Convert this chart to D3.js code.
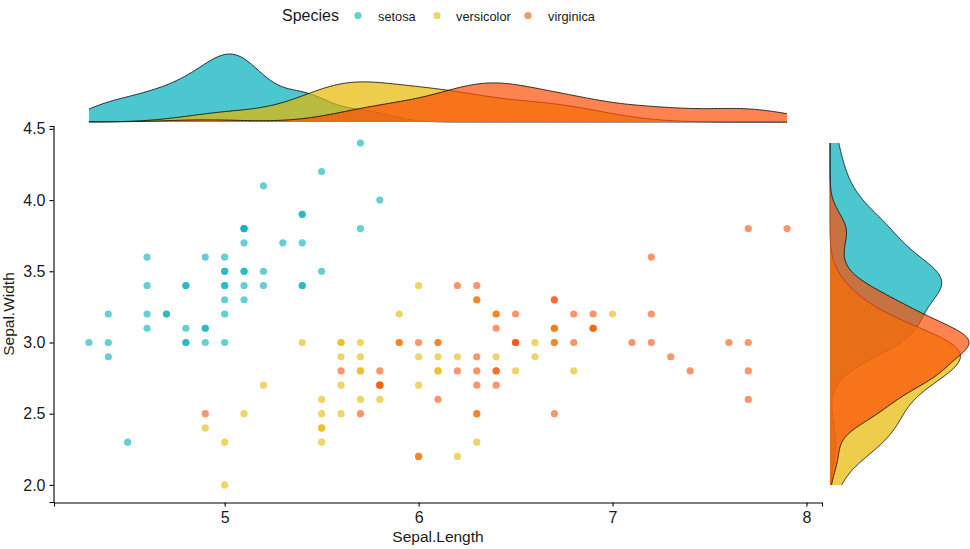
<!DOCTYPE html>
<html><head><meta charset="utf-8">
<script src="https://cdn.jsdelivr.net/npm/d3@7"></script>
<style>body{margin:0;background:#fff;} svg{display:block;font-family:"Liberation Sans",Arial,sans-serif;}</style>
</head><body><svg id="c" width="970" height="549"></svg>
<script>
const species = ["setosa", "versicolor", "virginica"];
const colors = ["#00AFBB", "#E7B800", "#FC4E07"];

const setosaLength = [5.1,4.9,4.7,4.6,5.0,5.4,4.6,5.0,4.4,4.9,5.4,4.8,4.8,4.3,5.8,5.7,5.4,5.1,5.7,5.1,5.4,5.1,4.6,5.1,4.8,5.0,5.0,5.2,5.2,4.7,4.8,5.4,5.2,5.5,4.9,5.0,5.5,4.9,4.4,5.1,5.0,4.5,4.4,5.0,5.1,4.8,5.1,4.6,5.3,5.0];
const setosaWidth = [3.5,3.0,3.2,3.1,3.6,3.9,3.4,3.4,2.9,3.1,3.7,3.4,3.0,3.0,4.0,4.4,3.9,3.5,3.8,3.8,3.4,3.7,3.6,3.3,3.4,3.0,3.4,3.5,3.4,3.2,3.1,3.4,4.1,4.2,3.1,3.2,3.5,3.6,3.0,3.4,3.5,2.3,3.2,3.5,3.8,3.0,3.8,3.2,3.7,3.3];
const versicolorLength = [7.0,6.4,6.9,5.5,6.5,5.7,6.3,4.9,6.6,5.2,5.0,5.9,6.0,6.1,5.6,6.7,5.6,5.8,6.2,5.6,5.9,6.1,6.3,6.1,6.4,6.6,6.8,6.7,6.0,5.7,5.5,5.5,5.8,6.0,5.4,6.0,6.7,6.3,5.6,5.5,5.5,6.1,5.8,5.0,5.6,5.7,5.7,6.2,5.1,5.7];
const versicolorWidth = [3.2,3.2,3.1,2.3,2.8,2.8,3.3,2.4,2.9,2.7,2.0,3.0,2.2,2.9,2.9,3.1,3.0,2.7,2.2,2.5,3.2,2.8,2.5,2.8,2.9,3.0,2.8,3.0,2.9,2.6,2.4,2.4,2.7,2.7,3.0,3.4,3.1,2.3,3.0,2.5,2.6,3.0,2.6,2.3,2.7,3.0,2.9,2.9,2.5,2.8];
const virginicaLength = [6.3,5.8,7.1,6.3,6.5,7.6,4.9,7.3,6.7,7.2,6.5,6.4,6.8,5.7,5.8,6.4,6.5,7.7,7.7,6.0,6.9,5.6,7.7,6.3,6.7,7.2,6.2,6.1,6.4,7.2,7.4,7.9,6.4,6.3,6.1,7.7,6.3,6.4,6.0,6.9,6.7,6.9,5.8,6.8,6.7,6.7,6.3,6.5,6.2,5.9];
const virginicaWidth = [3.3,2.7,3.0,2.9,3.0,3.0,2.5,2.9,2.5,3.6,3.2,2.7,3.0,2.5,2.8,3.2,3.0,3.8,2.6,2.2,3.2,2.8,2.8,2.7,3.3,3.2,2.8,3.0,2.8,3.0,2.8,3.8,2.8,2.8,2.6,3.0,3.4,3.1,3.0,3.1,3.1,3.1,2.7,3.2,3.3,3.0,2.5,3.0,3.4,3.0];

const xTicks = [5, 6, 7, 8];
const yTicks = [2.0, 2.5, 3.0, 3.5, 4.0, 4.5];

const lengths = [setosaLength, versicolorLength, virginicaLength];
const widths = [setosaWidth, versicolorWidth, virginicaWidth];

const svg = d3.select("#c");

// scales (ggplot-like 5% expansion)
const allX = lengths.flat(), allY = widths.flat();
const [xmin, xmax] = d3.extent(allX), [ymin, ymax] = d3.extent(allY);
const xe = (xmax - xmin) * 0.05, ye = (ymax - ymin) * 0.05;
const x = d3.scaleLinear().domain([xmin - xe, xmax + xe]).range([54, 822]);
const y = d3.scaleLinear().domain([ymin - ye, ymax + ye]).range([502, 126]);

// KDE
function nrd0(v) {
  const s = d3.deviation(v);
  const sorted = v.slice().sort(d3.ascending);
  const iqr = d3.quantileSorted(sorted, 0.75) - d3.quantileSorted(sorted, 0.25);
  let lo = Math.min(s, iqr / 1.34);
  if (!lo) lo = s || 1;
  return 0.9 * lo * Math.pow(v.length, -0.2);
}
function kde(v, lo, hi) {
  const bw = nrd0(v), n = v.length, c = 1 / (n * bw * Math.sqrt(2 * Math.PI));
  return d3.range(512).map(i => {
    const t = lo + i * (hi - lo) / 511;
    let s = 0;
    for (const a of v) { const z = (t - a) / bw; s += Math.exp(-0.5 * z * z); }
    return [t, s * c];
  });
}
const topDens = lengths.map(v => kde(v, xmin, xmax));
const rightDens = widths.map(v => kde(v, ymin, ymax));
const topMax = d3.max(topDens.flat(), d => d[1]);
const rightMax = d3.max(rightDens.flat(), d => d[1]);
const yTop = d3.scaleLinear().domain([0, topMax]).range([122, 54]);
const xRight = d3.scaleLinear().domain([0, rightMax]).range([830, 969]);

// top marginal densities
species.forEach((sp, i) => {
  svg.append("path").datum(topDens[i])
    .attr("d", d3.area().x(d => x(d[0])).y0(yTop(0)).y1(d => yTop(d[1])))
    .attr("fill", colors[i]).attr("fill-opacity", 0.7);
  svg.append("path").datum(topDens[i])
    .attr("d", d3.line().x(d => x(d[0])).y(d => yTop(d[1])))
    .attr("fill", "none").attr("stroke", "#000").attr("stroke-width", 0.8);
});
// right marginal densities
species.forEach((sp, i) => {
  svg.append("path").datum(rightDens[i])
    .attr("d", d3.area().y(d => y(d[0])).x0(xRight(0)).x1(d => xRight(d[1])))
    .attr("fill", colors[i]).attr("fill-opacity", 0.7);
  svg.append("path").datum(rightDens[i])
    .attr("d", d3.line().y(d => y(d[0])).x(d => xRight(d[1])))
    .attr("fill", "none").attr("stroke", "#000").attr("stroke-width", 0.8);
});

// points
species.forEach((sp, i) => {
  svg.append("g").selectAll("circle").data(d3.zip(lengths[i], widths[i])).join("circle")
    .attr("cx", d => x(d[0])).attr("cy", d => y(d[1])).attr("r", 3.6)
    .attr("fill", colors[i]).attr("fill-opacity", 0.6);
});

// axes
const xAxis = svg.append("g").attr("transform", "translate(0,502.5)")
  .call(d3.axisBottom(x).tickValues(xTicks).tickFormat(d3.format("d")).tickSizeOuter(0).tickSize(4).tickPadding(5));
const yAxis = svg.append("g").attr("transform", "translate(53.5,0)")
  .call(d3.axisLeft(y).tickValues(yTicks).tickFormat(d3.format(".1f")).tickSizeOuter(0).tickSize(4).tickPadding(4));
[xAxis, yAxis].forEach(g => {
  g.select(".domain").attr("stroke", "#000").attr("stroke-width", 1.1);
  g.selectAll(".tick line").attr("stroke", "#000").attr("stroke-width", 1.1);
  g.selectAll(".tick text").attr("fill", "#1a1a1a").attr("font-size", 16).attr("font-family", "Liberation Sans, Arial, sans-serif");
});

svg.append("text").attr("x", 438).attr("y", 542).attr("text-anchor", "middle")
  .attr("font-size", 15.5).attr("fill", "#1a1a1a").text("Sepal.Length");
svg.append("text").attr("transform", "translate(14,314) rotate(-90)").attr("text-anchor", "middle")
  .attr("font-size", 15.5).attr("fill", "#1a1a1a").text("Sepal.Width");

// legend
svg.append("text").attr("x", 282).attr("y", 21).attr("font-size", 16).attr("fill", "#1a1a1a").text("Species");
const legDot = [358, 437, 528], legText = [378, 456, 548];
species.forEach((sp, i) => {
  svg.append("circle").attr("cx", legDot[i]).attr("cy", 15.5).attr("r", 3.6)
    .attr("fill", colors[i]).attr("fill-opacity", 0.6);
  svg.append("text").attr("x", legText[i]).attr("y", 20.5).attr("font-size", 12.8)
    .attr("fill", "#1a1a1a").text(sp);
});
</script></body></html>
